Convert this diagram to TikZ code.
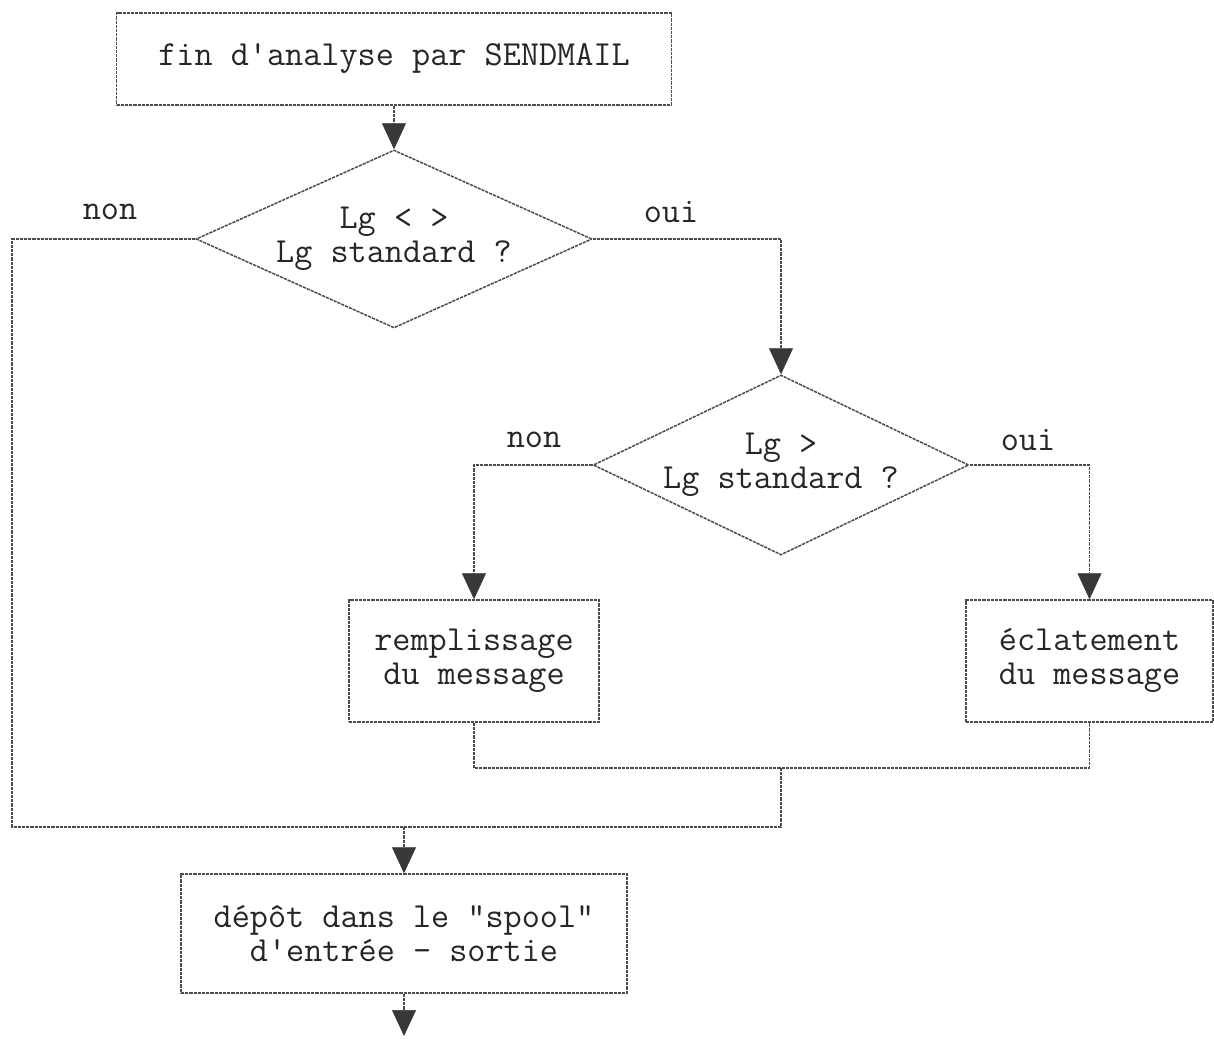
\documentclass[tikz,border=0pt]{standalone}
\usepackage{fontspec}
\setmonofont{Latin Modern Mono}
\usetikzlibrary{arrows.meta,shapes.geometric}
\begin{document}
\begin{tikzpicture}[x=0.5pt,y=-0.5pt,
  every node/.style={font=\ttfamily\fontsize{17.6}{17}\selectfont, text=black!85},
  ln/.style={draw=black!70, line width=0.75pt, dash pattern=on 1.6pt off 0.5pt},
  arr/.style={ln, -{Triangle[width=12pt,length=13pt,color=black!78,fill=black!78,line width=0.3pt]}},
  box/.style={ln, rectangle, inner sep=0pt, align=center},
  dia/.style={ln, diamond, inner sep=0pt, align=center, aspect=2.2},
  lbl/.style={inner sep=0pt}
]
\fill[white] (0,0) rectangle (1214,1038);
\useasboundingbox (0,0) rectangle (1214,1038);

\node[box, minimum width=277.5pt, minimum height=46pt] (top) at (394,59) {fin d'analyse par SENDMAIL};
\node[dia, minimum width=198pt, minimum height=89pt] (d1) at (394,239) {Lg < >\\Lg standard ?};
\node[dia, minimum width=182pt, minimum height=90pt] (d2) at (781,465) {Lg >\\Lg standard ?};
\node[box, minimum width=125pt, minimum height=61pt] (rem) at (474,661) {remplissage\\du message};
\node[box, minimum width=123.5pt, minimum height=61pt] (ecl) at (1089.5,661) {éclatement\\du message};
\node[box, minimum width=223pt, minimum height=59.5pt] (dep) at (404,933.5) {dépôt dans le "spool"\\d'entrée - sortie};

\node[lbl] (n1) at (110,212) {non};
\node[lbl] (o1) at (671,212) {oui};
\node[lbl] (n2) at (534,440) {non};
\node[lbl] (o2) at (1028,440) {oui};

\coordinate (lb) at (12,827);
\coordinate (jb) at (781,827);
\coordinate (jm) at (781,768);
\coordinate (endp) at (404,1036);

\draw[arr] (top.south) -- (d1.north);
\draw[ln] (d1.west) -| (lb) -- (jb);
\draw[arr] (d1.east) -| (d2.north);
\draw[arr] (d2.west) -| (rem.north);
\draw[arr] (d2.east) -| (ecl.north);
\draw[ln] (rem.south) -- (rem.south |- jm) -- (ecl.south |- jm) -- (ecl.south);
\draw[ln] (jm) -- (jb);
\draw[arr] (dep.north |- jb) -- (dep.north);
\draw[arr] (dep.south) -- (endp);
\end{tikzpicture}
\end{document}
